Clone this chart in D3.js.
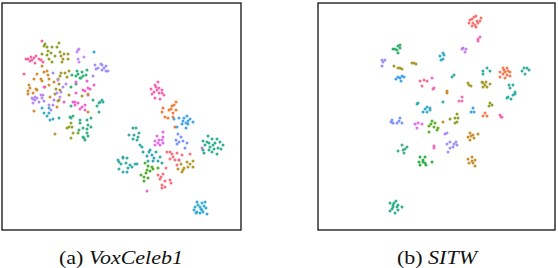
<!DOCTYPE html>
<html><head><meta charset="utf-8">
<style>html,body{margin:0;padding:0;background:#fff}svg{display:block}</style>
<script src="https://cdn.jsdelivr.net/npm/d3@7"></script></head>
<body><svg id="c" width="558" height="268"></svg>
<script>
const captions = [["(a) ","VoxCeleb1"],["(b) ","SITW"]];
// VoxCeleb1 embedding clusters
const vPink=[[26,59],[28,59],[31,57],[32,60],[36,56],[35,63],[39,59],[41,60],[43,62],[42,41],[24,74],[30,61],[34,58]];
const vOliveGreen=[[44,46],[47,47],[52,47],[59,43],[48,51],[42,54],[47,55],[55,56],[57,47],[49,59],[52,62],[45,44],[51,53]];
const vOlive=[[60,52],[61,56],[68,54],[63,59],[62,62],[68,59],[65,73],[69,71],[61,73],[58,79],[60,76],[67,77],[59,100],[69,95],[58,101],[55,94],[60,90],[82,96],[56,89],[64,54],[59,84]];
const vOrange=[[37,74],[34,79],[42,66],[44,72],[48,75],[49,79],[49,85],[41,79],[29,85],[36,89],[28,91],[28,94],[37,90],[45,87],[50,97],[57,107],[34,111],[42,81],[54,82],[30,88],[47,71],[33,93]];
const vPurple=[[33,99],[32,98],[41,95],[43,95],[35,97],[39,102],[33,103],[44,101],[58,80],[63,87],[66,84],[61,92],[57,93],[49,105],[53,105],[51,110],[54,100],[60,97],[37,98],[42,98],[35,100]];
const vLavender=[[95,65],[96,69],[102,65],[106,66],[102,70],[106,71],[108,71],[93,76],[101,64],[53,73],[104,68],[98,68]];
const vViolet=[[78,50],[77,52],[84,57],[78,59],[79,62],[79,49]];
const vSky=[[94,52]];
const vGreen=[[77,71],[87,70],[82,72],[72,75],[76,76],[81,78],[86,75],[71,87],[80,78],[76,84],[78,74],[83,76]];
const vMagenta=[[76,82],[87,81],[94,85],[90,89],[85,91],[83,90],[76,93],[88,95],[73,102],[78,103],[75,105],[80,109],[85,105],[85,110],[64,102],[44,87],[88,88],[75,102],[82,107]];
const vTeal=[[93,100],[100,102],[103,102],[97,106],[99,112],[71,106],[59,118],[99,103],[102,100]];
const vCyan=[[42,108],[44,113],[49,113],[53,119],[50,120],[47,116],[49,108]];
const vMint=[[70,117],[73,116],[71,118],[80,120],[87,120],[80,123],[91,118],[83,128],[88,125],[91,127],[79,130],[87,129],[87,133],[83,137],[88,136],[85,140],[84,138]];
const vLime=[[71,123],[67,128],[72,127],[73,133],[78,133],[71,138],[69,127]];
const vGold=[[88,112],[88,94],[55,134]];
const vRose=[[158,82],[155,85],[151,89],[159,88],[154,92],[162,90],[152,94],[155,98],[160,99],[164,95],[162,93],[157,90],[159,93],[156,87]];
const vTangerine=[[176,102],[172,106],[163,108],[176,110],[162,112],[169,110],[173,113],[165,117],[168,118],[173,117],[175,127],[171,109],[174,105]];
const vBlue=[[187,116],[179,118],[174,119],[183,121],[190,119],[193,122],[182,124],[186,123],[188,124],[177,127],[186,128],[184,118],[188,121]];
const vTeal2=[[133,128],[136,128],[139,133],[129,135],[134,135],[138,137],[133,139],[137,140]];
const vOrchid=[[163,132],[157,136],[163,137],[155,141],[159,140],[162,140],[155,145],[160,145],[163,143],[202,148],[147,191],[158,143]];
const vPeri=[[178,134],[181,137],[176,140],[179,142],[183,141],[177,144],[187,143],[185,148],[179,160]];
const vSea=[[208,136],[203,141],[212,139],[217,139],[220,142],[223,145],[207,142],[209,143],[209,150],[203,150],[212,152],[217,154],[221,149],[218,148],[213,145],[204,153],[210,147],[215,143],[205,145],[214,149]];
const vTeal3=[[140,145],[142,147],[143,152],[150,150],[156,152],[147,156],[152,155],[160,157],[153,161],[158,161],[162,163],[148,161],[154,158],[149,152]];
const vTeal4=[[123,157],[118,160],[127,158],[123,158],[119,162],[126,163],[130,165],[135,164],[137,164],[128,168],[119,169],[123,172],[127,172],[132,167],[121,164]];
const vLeaf=[[145,163],[148,166],[152,167],[147,170],[153,169],[158,168],[146,173],[141,175],[144,177],[148,178],[144,181],[150,171]];
const vCoral=[[167,152],[170,152],[177,153],[173,157],[182,155],[190,154],[170,159],[175,160],[166,168],[177,165],[179,160],[158,175],[163,174],[160,179],[170,180],[165,181],[162,185],[165,187],[171,183],[162,188],[172,154],[161,177]];
const vBrown=[[187,162],[193,161],[181,164],[188,167],[184,168],[193,167],[178,169],[183,170],[182,172],[190,164]];
const vAzure=[[197,202],[205,202],[202,203],[195,207],[200,207],[206,208],[202,210],[197,212],[196,213],[207,214],[200,213],[203,212],[198,205],[201,209],[204,206],[194,210]];
// SITW embedding clusters
const sCoral=[[476,16],[472,19],[477,21],[480,21],[469,23],[473,23],[478,23],[472,26],[476,27],[474,17],[470,20],[481,18],[475,25]];
const sPink=[[478,39],[480,37],[478,41],[434,88],[433,89],[434,146],[434,148],[462,97],[459,101],[462,101],[500,115],[501,117],[502,117]];
const sPurple=[[463,48],[462,49],[465,52],[466,49]];
const sGreen=[[398,46],[395,49],[400,48],[398,53],[397,50],[400,45],[393,49]];
const sCyan=[[443,53],[440,56],[443,59],[441,60],[427,107],[425,109],[430,108],[423,112],[427,112],[430,110],[444,55]];
const sLavender=[[382,60],[385,60],[383,62],[382,66],[447,133],[445,134],[450,142],[456,142],[447,144],[453,147],[457,145],[450,148],[448,152],[454,144]];
const sOlive=[[394,66],[398,68],[402,69],[400,68],[412,63],[414,63],[416,64],[468,83],[471,86],[469,85],[482,82],[486,82],[490,84],[483,87],[487,87],[483,83],[485,85]];
const sBlue=[[398,77],[402,76],[404,77],[401,81],[400,78],[473,108],[471,112],[474,112],[396,79]];
const sRed=[[420,81],[427,81],[422,86],[424,80]];
const sMagenta=[[432,78],[418,123],[415,124],[422,124],[417,128]];
const sTeal=[[452,77],[454,75],[483,71],[487,68],[490,71],[483,74],[524,68],[527,68],[522,71],[529,70],[525,74],[509,85],[513,85],[510,88],[515,92],[513,95],[508,97],[507,98],[511,99],[515,94],[443,102],[417,104],[418,103]];
const sOrange=[[503,68],[507,68],[500,72],[505,72],[510,72],[503,74],[507,75],[510,76],[505,78],[500,77],[485,113],[483,116],[487,116],[504,70],[508,71]];
const sGold=[[447,91],[447,93],[443,122],[470,133],[473,135],[478,134],[468,137],[470,140],[474,138],[472,157],[468,159],[475,160],[469,163],[473,163],[475,166],[471,136],[472,161]];
const sLime=[[490,103],[492,105],[489,106],[457,114],[450,119],[455,118],[458,118],[455,123],[457,122]];
const sPeri=[[392,120],[400,118],[397,123],[402,123],[393,123],[391,122],[399,121]];
const sLeaf=[[432,121],[435,123],[429,126],[434,127],[438,128],[437,130],[429,132],[431,124]];
const sMint=[[402,145],[407,147],[403,150],[398,151],[404,153],[405,149]];
const sForest=[[420,157],[425,157],[419,162],[423,162],[432,162],[420,165],[426,165],[423,160],[425,163]];
const sSea=[[396,201],[390,203],[398,205],[393,207],[402,207],[390,211],[395,213],[398,210],[394,203],[392,209],[397,207],[393,205]];

const voxSeries=[[vPink,"#f564a2"],[vOliveGreen,"#8fa02b"],[vOlive,"#a39b2b"],[vOrange,"#d18d30"],[vPurple,"#b58bf2"],[vLavender,"#a08ff5"],[vViolet,"#c98cf0"],[vSky,"#34a9cf"],[vGreen,"#2fb27a"],[vMagenta,"#f060cf"],[vTeal,"#33b09a"],[vCyan,"#37aec6"],[vMint,"#33b184"],[vLime,"#8ea62c"],[vGold,"#b59b2a"],[vRose,"#f066b4"],[vTangerine,"#f17c32"],[vBlue,"#3fa5e8"],[vTeal2,"#36ab9e"],[vOrchid,"#e56ae8"],[vPeri,"#7b95f5"],[vSea,"#2fb08c"],[vTeal3,"#2fa8b0"],[vTeal4,"#36abaa"],[vLeaf,"#4fae2a"],[vCoral,"#f7717d"],[vBrown,"#b59b2a"],[vAzure,"#35acd5"]];
const sitwSeries=[[sCoral,"#f7716f"],[sPink,"#f569b5"],[sPurple,"#c27cf0"],[sGreen,"#2fb06b"],[sCyan,"#33a9c4"],[sLavender,"#a08ff5"],[sOlive,"#a89a2d"],[sBlue,"#3fa3ec"],[sRed,"#f56f8f"],[sMagenta,"#e86ae6"],[sTeal,"#33aea6"],[sOrange,"#f27a4c"],[sGold,"#c98f2e"],[sLime,"#8ca42b"],[sPeri,"#7b95f5"],[sLeaf,"#5fae2c"],[sMint,"#45b085"],[sForest,"#2cb04a"],[sSea,"#2fb08c"]];

const svg=d3.select("#c");
const panels=[
 {series:voxSeries,x0:2,x1:241,y0:3,y1:230,cap:captions[0],tx:59,tw:124},
 {series:sitwSeries,x0:318,x1:555,y0:3,y1:230,cap:captions[1],tx:397,tw:80}
];
panels.forEach(p=>{
  const x=d3.scaleLinear().domain([p.x0,p.x1]).range([p.x0,p.x1]);
  const y=d3.scaleLinear().domain([p.y0,p.y1]).range([p.y0,p.y1]);
  const g=svg.append("g");
  g.append("rect").attr("x",p.x0).attr("y",p.y0).attr("width",p.x1-p.x0).attr("height",p.y1-p.y0)
    .attr("fill","#fff").attr("stroke","#111").attr("stroke-width",1.3);
  p.series.forEach(([pts,col])=>{
    g.append("g").selectAll("circle").data(pts).join("circle")
      .attr("cx",d=>x(d[0])).attr("cy",d=>y(d[1])).attr("r",1.5).attr("fill",col);
  });
  const t=svg.append("text").attr("x",p.tx).attr("y",264)
    .attr("font-family","'Liberation Serif',serif").attr("font-size",19.5).attr("fill","#111")
    .attr("textLength",p.tw).attr("lengthAdjust","spacingAndGlyphs").attr("xml:space","preserve");
  t.append("tspan").text(p.cap[0]);
  t.append("tspan").attr("font-style","italic").text(p.cap[1]);
});
</script></body></html>
